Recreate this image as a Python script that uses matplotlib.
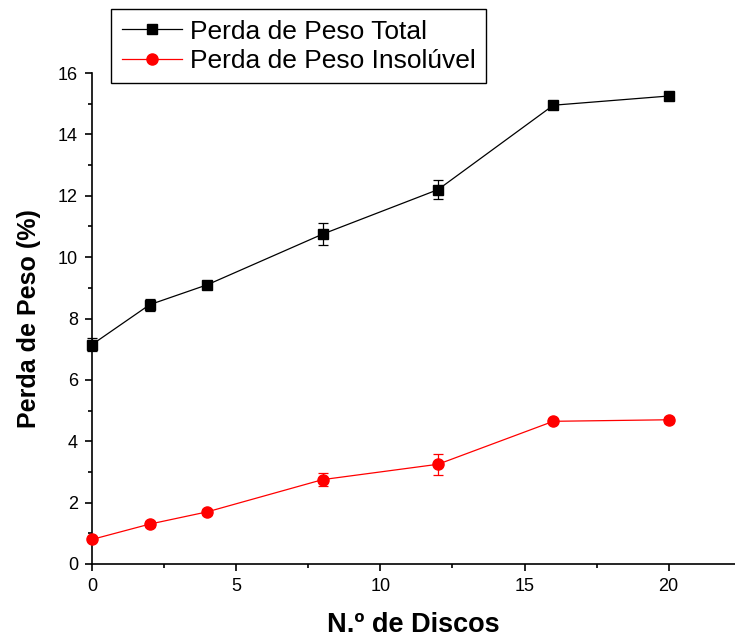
import matplotlib; matplotlib.use('agg')
import matplotlib.pyplot as plt
from matplotlib.lines import Line2D
from matplotlib.ticker import MultipleLocator

discos = [0, 2, 4, 8, 12, 16, 20]
perda_total = [7.15, 8.45, 9.1, 10.75, 12.2, 14.95, 15.25]
erro_total = [0.2, 0.2, 0.1, 0.35, 0.3, 0.08, 0.08]
perda_insol = [0.8, 1.3, 1.7, 2.75, 3.25, 4.65, 4.7]
erro_insol = [0.05, 0.1, 0.1, 0.2, 0.35, 0.06, 0.1]
nomes = ['Perda de Peso Total', 'Perda de Peso Insolúvel']

plt.rcParams['font.family'] = ['Liberation Sans', 'DejaVu Sans']

fig = plt.figure(figsize=(7.35, 6.43), dpi=100)
ax = fig.add_axes([92 / 735, 1 - 564 / 643, 1 - 92 / 735, (564 - 73) / 643])

estilos = [dict(color='black', marker='s', ms=7.5),
           dict(color='red', marker='o', ms=8)]

for y, e, st in zip([perda_total, perda_insol], [erro_total, erro_insol], estilos):
    ax.errorbar(discos, y, yerr=e, lw=0.9, capsize=3.5, elinewidth=0.9,
                capthick=0.9, clip_on=False, zorder=3, **st)

ax.set_xlim(0, 22.3)
ax.set_ylim(0, 16)
ax.xaxis.set_major_locator(MultipleLocator(5))
ax.xaxis.set_minor_locator(MultipleLocator(2.5))
ax.yaxis.set_major_locator(MultipleLocator(2))
ax.yaxis.set_minor_locator(MultipleLocator(1))
ax.spines['top'].set_visible(False)
ax.spines['right'].set_visible(False)
for s in ['left', 'bottom']:
    ax.spines[s].set_linewidth(1.2)
ax.tick_params(which='major', direction='out', length=5, width=1.2,
               labelsize=13, pad=5)
ax.tick_params(which='minor', direction='out', length=3, width=1.2)

ax.set_xlabel('N.º de Discos', fontsize=19.5, fontweight='bold', labelpad=12)
ax.set_ylabel('Perda de Peso (%)', fontsize=18, fontweight='bold', labelpad=12)

# legend without the error bars, like the original
handles = [Line2D([], [], lw=0.9, **st) for st in estilos]
leg = fig.legend(handles, nomes, loc='upper left',
                 bbox_to_anchor=(111 / 735, 1 - 9 / 643),
                 borderaxespad=0, fancybox=False, edgecolor='black',
                 framealpha=1, fontsize=19, handlelength=2.3,
                 handletextpad=0.3, borderpad=0.4, labelspacing=0.2)
leg.get_frame().set_linewidth(1.0)

fig.savefig('out.png', dpi=100)
